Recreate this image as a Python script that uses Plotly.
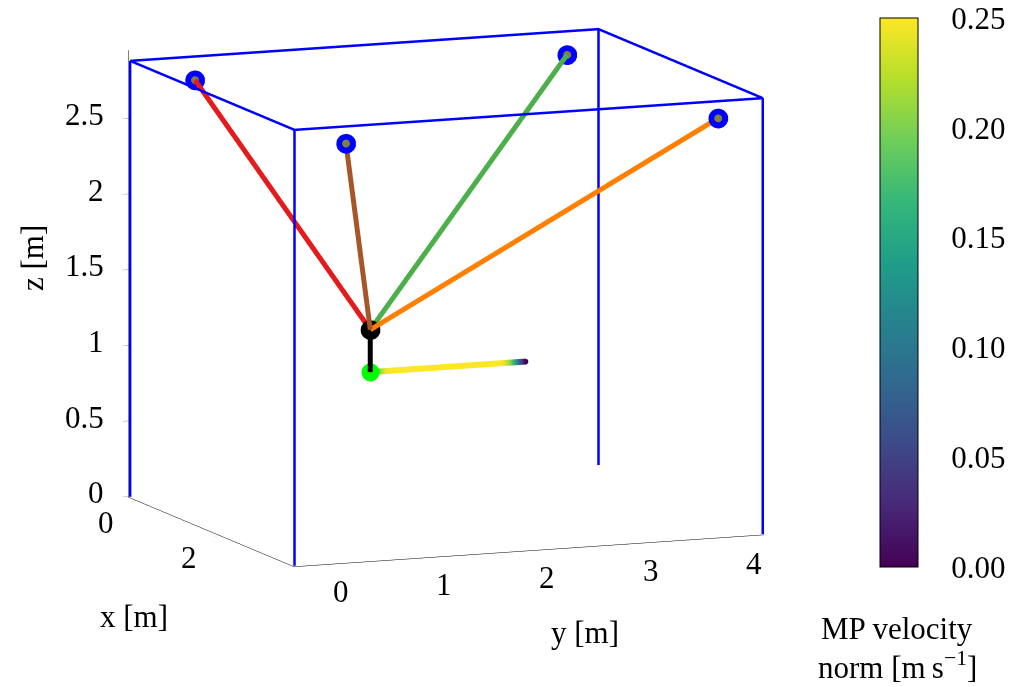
import plotly.graph_objects as go

# ---------------- data ----------------
# axis limits [m]
x_range = [-0.20, 3.77]
y_range = [-0.21, 4.34]
z_range = [-0.005, 2.95]

x_ticks = [0, 2]
y_ticks = [0, 1, 2, 3, 4]
z_ticks = [0, 0.5, 1, 1.5, 2, 2.5]
z_tick_text = ["0", "0.5", "1", "1.5", "2", "2.5"]

# blue frame: four posts + top rectangle (None separates segments)
frame_x = [-0.19, -0.19, None, 3.76, 3.76, None, 3.76, 3.76, None, -0.19, -0.19, None,
           -0.19, 3.76, 3.76, -0.19, -0.19]
frame_y = [-0.20, -0.20, None, -0.20, -0.20, None, 4.33, 4.33, None, 4.33, 4.33, None,
           -0.20, -0.20, 4.33, 4.33, -0.20]
frame_z = [0.0, 2.88, None, 0.0, 2.88, None, 0.0, 2.88, None, 0.0, 2.88, None,
           2.88, 2.88, 2.88, 2.88, 2.88]

# cable anchor points
anchor_x = [0.0, 3.63, 0.0, 3.63]
anchor_y = [0.35, 0.35, 3.95, 3.95]
anchor_z = [2.75, 2.75, 2.75, 2.75]
cable_colors = ["#e41a1c", "#a65628", "#4daf4a", "#ff7f00"]

# moving platform (end effector) and trajectory start point
ee_x, ee_y, ee_z = 1.78, 1.33, 1.26
mp_x, mp_y, mp_z = 1.78, 1.33, 0.98

# trajectory of the moving platform and its velocity norm
traj_y = [1.33, 1.36, 1.39, 1.43, 1.48, 1.58, 1.78, 1.98, 2.18, 2.38, 2.58,
          2.63, 2.68, 2.72, 2.76, 2.80, 2.83]
traj_v = [0.00, 0.10, 0.16, 0.21, 0.245, 0.25, 0.25, 0.25, 0.25, 0.25, 0.25,
          0.24, 0.21, 0.16, 0.10, 0.04, 0.00]
traj_x = [1.78] * len(traj_y)
traj_z = [0.98] * len(traj_y)

cbar_ticks = [0.00, 0.05, 0.10, 0.15, 0.20, 0.25]

FONT = "Liberation Serif"
FS = 31
W, H = 1015, 687
SCALE = 1.733

fig = go.Figure()

# frame
fig.add_trace(go.Scatter3d(x=frame_x, y=frame_y, z=frame_z, mode="lines",
                           line=dict(color="#0000ff", width=5),
                           hoverinfo="skip", showlegend=False))
# cables
for ax_, ay_, az_, col in zip(anchor_x, anchor_y, anchor_z, cable_colors):
    fig.add_trace(go.Scatter3d(x=[ee_x, ax_], y=[ee_y, ay_], z=[ee_z, az_],
                               mode="lines", line=dict(color=col, width=10),
                               showlegend=False))
# anchors (blue ring with olive centre)
fig.add_trace(go.Scatter3d(x=anchor_x, y=anchor_y, z=anchor_z, mode="markers",
                           marker=dict(size=11.5, color="#0000ff", line=dict(width=0)),
                           showlegend=False))
fig.add_trace(go.Scatter3d(x=anchor_x, y=anchor_y, z=anchor_z, mode="markers",
                           marker=dict(size=4.6, color="#808040", line=dict(width=0)),
                           showlegend=False))
# platform link
fig.add_trace(go.Scatter3d(x=[ee_x, mp_x], y=[ee_y, mp_y], z=[ee_z, mp_z],
                           mode="lines", line=dict(color="black", width=10),
                           showlegend=False))
fig.add_trace(go.Scatter3d(x=[ee_x], y=[ee_y], z=[ee_z], mode="markers",
                           marker=dict(size=11.5, color="black", line=dict(width=0)),
                           showlegend=False))
fig.add_trace(go.Scatter3d(x=[mp_x], y=[mp_y], z=[mp_z], mode="markers",
                           marker=dict(size=10.5, color="#00ff00", line=dict(width=0)),
                           showlegend=False))
# trajectory coloured by velocity
fig.add_trace(go.Scatter3d(
    x=traj_x, y=traj_y, z=traj_z, mode="lines",
    line=dict(color=traj_v, colorscale="Viridis", cmin=0, cmax=0.25, width=12,
              showscale=True,
              colorbar=dict(
                  x=880 / W, xanchor="left", xpad=0,
                  y=1 - 18 / H, yanchor="top", ypad=0,
                  len=549 / H, lenmode="fraction", thickness=38,
                  outlinecolor="black", outlinewidth=1,
                  tickvals=cbar_ticks, tickformat=".2f",
                  ticks="outside", ticklen=27, tickcolor="rgba(0,0,0,0)",
                  tickfont=dict(family=FONT, size=FS, color="black"),
              )),
    showlegend=False))
fig.add_trace(go.Scatter3d(x=[traj_x[-1]], y=[traj_y[-1]], z=[traj_z[-1]],
                           mode="markers", marker=dict(size=3.4, color="#440154",
                                                       line=dict(width=0)),
                           showlegend=False))

axis_common = dict(showgrid=False, zeroline=False, showbackground=False,
                   showspikes=False, showline=True, linecolor="black", linewidth=1,
                   ticks="outside", ticklen=6, tickcolor="#999999",
                   showticklabels=False, title=dict(text=""))

# tick labels placed at the tick positions of the 3D axes
tick_font = dict(family=FONT, size=FS, color="black")
scene_ann = []
for t in x_ticks:
    scene_ann.append(dict(x=t, y=y_range[0], z=z_range[0], text=str(t), showarrow=False,
                          xanchor="center", yanchor="middle", xshift=-31, yshift=-21,
                          font=tick_font))
for t in y_ticks:
    scene_ann.append(dict(x=x_range[1], y=t, z=z_range[0], text=str(t), showarrow=False,
                          xanchor="center", yanchor="middle", xshift=25, yshift=-26,
                          font=tick_font))
for t, lab in zip(z_ticks, z_tick_text):
    scene_ann.append(dict(x=x_range[0], y=y_range[0], z=t, text=lab, showarrow=False,
                          xanchor="right", yanchor="middle", xshift=-23, yshift=4,
                          font=tick_font))

d = 4.0
eye = dict(x=0.916 * d, y=-0.368 * d, z=0.169 * d)


def paper_text(text, px, py, angle=0):
    return dict(text=text, x=px / W, y=1 - py / H, xref="paper", yref="paper",
                xanchor="center", yanchor="middle", showarrow=False,
                textangle=angle, font=tick_font)


fig.update_layout(
    width=W, height=H,
    margin=dict(l=0, r=0, t=0, b=0),
    paper_bgcolor="white",
    font=dict(family=FONT, size=FS, color="black"),
    scene=dict(
        domain=dict(x=[0.0, 0.8796], y=[0.148, 1.0]),
        xaxis=dict(range=x_range, tickvals=x_ticks, **axis_common),
        yaxis=dict(range=y_range, tickvals=y_ticks, **axis_common),
        zaxis=dict(range=z_range, tickvals=z_ticks, **axis_common),
        aspectmode="manual",
        aspectratio=dict(x=0.874 * SCALE, y=1.0 * SCALE, z=0.895 * SCALE),
        camera=dict(eye=eye, up=dict(x=0, y=0, z=1), center=dict(x=0, y=0, z=0),
                    projection=dict(type="orthographic")),
        annotations=scene_ann,
    ),
    annotations=[
        paper_text("x [m]", 134, 616),
        paper_text("y [m]", 585, 632),
        paper_text("z [m]", 32, 258, -90),
        paper_text("MP velocity", 897, 628),
        paper_text("norm [m\u2009s<sup>\u22121</sup>]", 897, 665),
    ],
)

fig.write_html("out.html", config={"displayModeBar": False},
               post_script="document.body.style.margin='0';")
